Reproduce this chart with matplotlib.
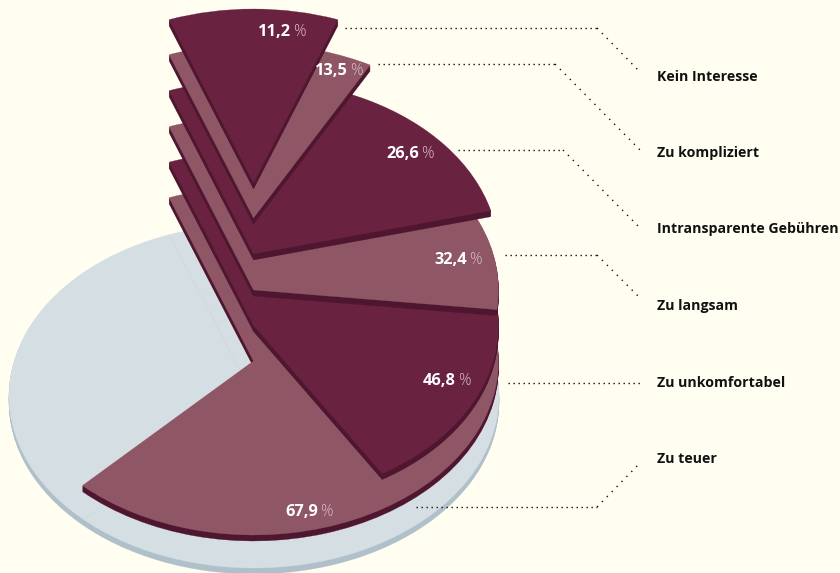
import math
import matplotlib
matplotlib.use("Agg")
import matplotlib.pyplot as plt
from matplotlib.patches import Wedge
from matplotlib.transforms import Affine2D

# Data
categories = ["Zu teuer", "Zu unkomfortabel", "Zu langsam",
              "Intransparente Gebühren", "Zu kompliziert", "Kein Interesse"]
values = [67.9, 46.8, 32.4, 26.6, 13.5, 11.2]
value_labels = ["67,9", "46,8", "32,4", "26,6", "13,5", "11,2"]

# Style / layout
BG = "#fffef0"
DARK = "#69223f"
LIGHT = "#8f5766"
SIDE = "#4e162f"
BASE = "#d5dee3"
BASE_SIDE = "#afc0ca"
HAIR = "#ccd5d5"
layer_colors = [LIGHT, DARK, LIGHT, DARK, LIGHT, DARK]
layer_cy = [361, 325.5, 290, 254, 218, 183]
CX, RX, RY = 253.5, 245, 174
START = -110.16
DEPTH = 6
label_xy = [(318, 512), (456, 381), (467, 260), (419, 154), (348, 71), (291, 32)]
cat_y = [459, 383, 306, 229, 153, 77]
leaders = [
    [(416, 507), (597, 507), (640, 463)],
    [(508, 383), (640, 383)],
    [(505, 255), (597, 255), (640, 298)],
    [(458, 150), (563, 150), (640, 228)],
    [(378, 64), (555, 64), (640, 150)],
    [(345, 28), (597, 28), (640, 72)],
]

fig = plt.figure(figsize=(8.4, 5.73), dpi=100, facecolor=BG)
ax = fig.add_axes([0, 0, 1, 1])
ax.set_xlim(0, 840)
ax.set_ylim(573, 0)
ax.axis("off")
ax.set_facecolor(BG)


def wedge(cx, cy, rx, ry, t1, t2, color, z):
    tr = Affine2D().scale(rx, ry).translate(cx, cy) + ax.transData
    ax.add_patch(Wedge((0, 0), 1, t1, t2, transform=tr, fc=color, ec=color,
                       lw=0.2, zorder=z))


# Base disc
BASE_CY, BASE_RY = 396, 172
for d in range(DEPTH, 0, -1):
    wedge(254, BASE_CY + d, RX, BASE_RY, 0, 360, BASE_SIDE, 1)
wedge(254, BASE_CY, RX, BASE_RY, 0, 360, BASE, 1.5)

# Faint hairlines of the base disc
for ang in (START, START + values[0] * 3.6):
    a = math.radians(ang)
    ax.plot([254, 254 + RX * math.cos(a)], [BASE_CY + 1, BASE_CY + 1 + BASE_RY * math.sin(a)],
            color=HAIR, lw=0.4, zorder=1.6, solid_capstyle="butt")

# Stacked sectors
for i, (v, col, cy) in enumerate(zip(values, layer_colors, layer_cy)):
    z = 2 + i
    t2 = START + v * 3.6
    for d in range(DEPTH, 0, -1):
        wedge(CX, cy + d, RX, RY, START, t2, SIDE, z)
    wedge(CX, cy, RX, RY, START, t2, col, z + 0.5)

# Value labels
FONT = "Open Sans"
for (x, y), t in zip(label_xy, value_labels):
    ax.text(x, y, t, ha="right", va="center", color="white", fontsize=11.8,
            fontweight="bold", family=FONT, zorder=20)
    ax.text(x + 2.5, y, "%", ha="left", va="center", color="#d8bcc8", fontsize=11.2,
            fontweight="light", family=FONT, zorder=20)

# Category labels
for y, t in zip(cat_y, categories):
    ax.text(657, y, t, ha="left", va="center", color="#111111", fontsize=10.2,
            fontweight="bold", family=FONT, zorder=20)

# Dotted leaders
for pts in leaders:
    for (x0, y0), (x1, y1) in zip(pts[:-1], pts[1:]):
        diag = abs(y1 - y0) > 1
        ax.plot([x0, x1], [y0, y1], color="#111111", lw=1.0,
                linestyle=(0, (1, 4.05 if diag else 2.6)), zorder=15)

fig.savefig("out.png", dpi=100, facecolor=BG)
